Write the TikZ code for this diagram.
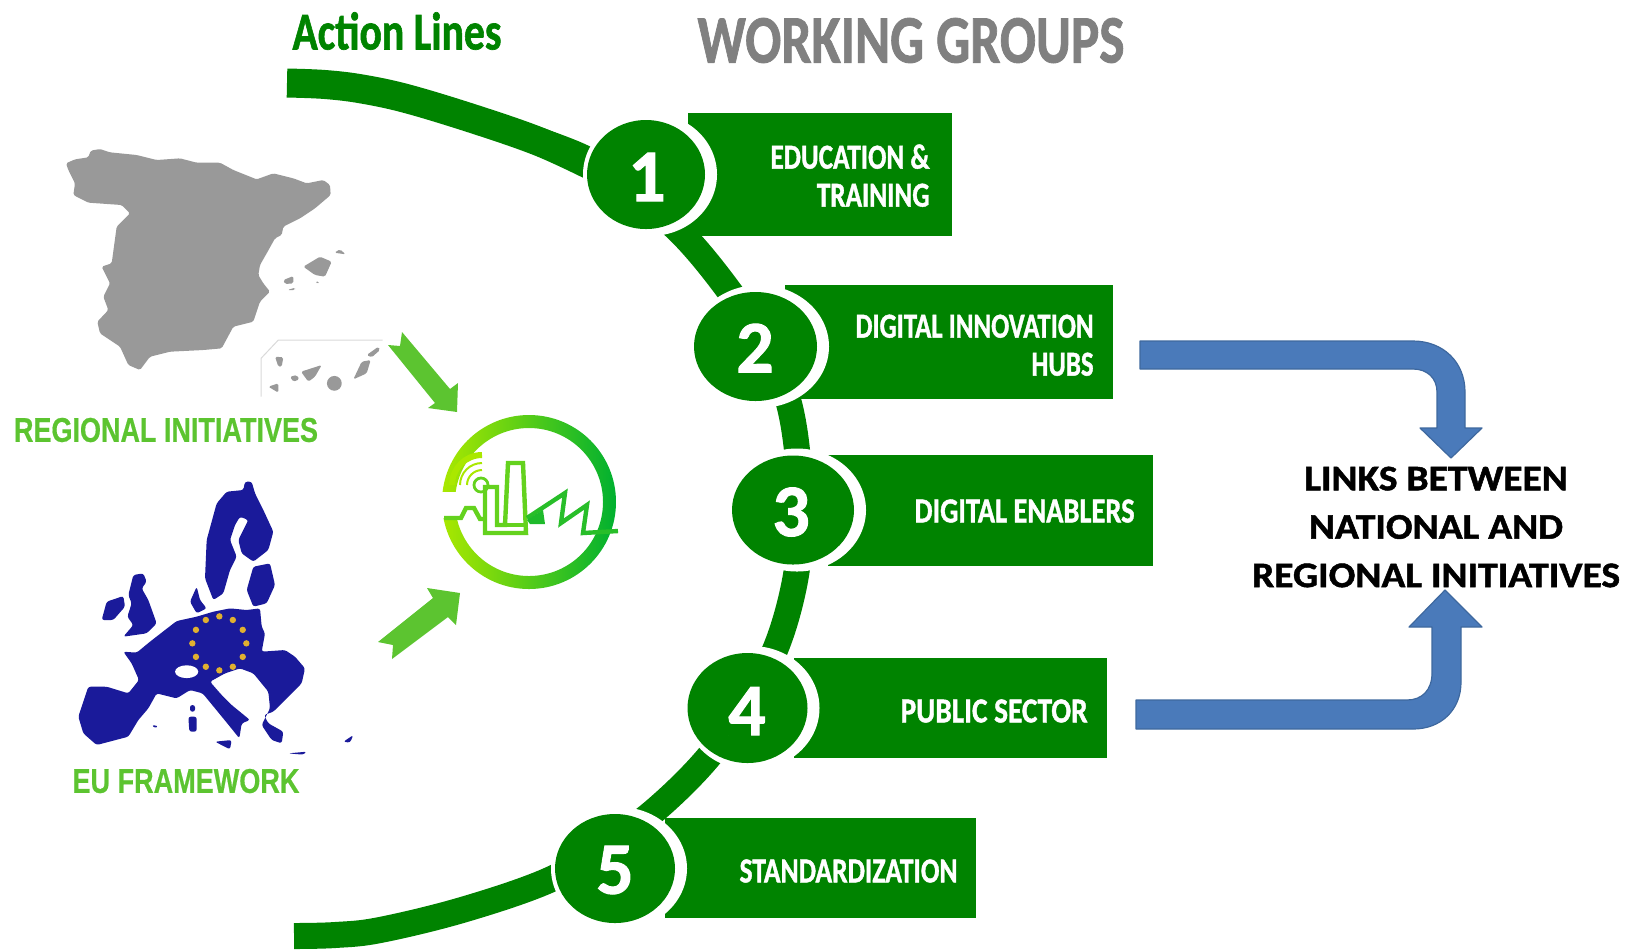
\documentclass[tikz,border=0pt]{standalone}
\usepackage{fontspec}
\usepackage{graphicx}
\usepackage{array}
\setmainfont{Carlito}[BoldFeatures={FakeBold=1.3}]
\newfontfamily\arialf{Liberation Sans}[BoldFeatures={FakeBold=0.6}]
\usetikzlibrary{shapes.geometric}
\newlength\pxu \setlength\pxu{0.5pt}
\newcommand\fitw[2]{\resizebox{#1\pxu}{\height}{#2}}
\definecolor{awgreen}{RGB}{0,131,0}
\definecolor{awlime}{RGB}{92,196,48}
\definecolor{awgrey}{RGB}{128,128,128}
\definecolor{awmap}{RGB}{153,153,153}
\definecolor{aweu}{RGB}{26,26,154}
\definecolor{awstar}{RGB}{224,176,48}
\definecolor{awblue}{RGB}{74,122,186}
\definecolor{awblueline}{RGB}{62,104,158}
\definecolor{logoa}{RGB}{170,232,0}
\definecolor{logob}{RGB}{90,208,16}
\definecolor{logoc}{RGB}{0,176,48}
\definecolor{logol}{RGB}{100,210,30}
\tikzset{
  x=0.5pt,y=-0.5pt,
  wgbox/.style={rectangle,fill=awgreen,inner sep=0pt,outer sep=0pt},
  wgring/.style={ellipse,fill=white,inner sep=0pt,outer sep=0pt},
  wgdisc/.style={ellipse,fill=awgreen,inner sep=0pt,outer sep=0pt},
  wgdigit/.style={text=white,font=\fontsize{37}{37}\selectfont\bfseries,inner sep=0pt},
  wglabel/.style={text=white,anchor=east,inner sep=0pt,font=\fontsize{17.5}{19}\selectfont\bfseries},
  titletext/.style={inner sep=0pt},
  bandline/.style={draw=awgreen,line width=13pt},
  limearrow/.style={fill=awlime},
  bluearrow/.style={fill=awblue,draw=awblueline,line width=0.6pt,line join=round},
  logoline/.style={draw=logol,line width=2.2pt,line join=miter},
  spainmap/.style={fill=awmap,rounded corners=0.8pt},
  eumap/.style={fill=aweu,rounded corners=1.2pt},
}
\begin{document}
\begin{tikzpicture}
\useasboundingbox (0,0) rectangle (1626,950);
% titles
\node[titletext,text=awgreen,font=\fontsize{26.5}{27}\selectfont\bfseries] (actionlines) at (397,31) {\fitw{209}{Action Lines}};
\node[titletext,text=awgrey,font=\fontsize{34}{35}\selectfont\bfseries] (workinggroups) at (911,40.5) {\fitw{427}{WORKING GROUPS}};
% main band
\draw[bandline] plot[smooth,tension=0.6] coordinates {(477,120) (582,157) (640,198) (684,236) (727,288) (765,345) (788,400) (798,460) (799,515) (796,575) (777,645) (745,705) (706,760) (653,812) (600,850) (547,881) (462,910) (380,930) (335,935) (294,936)};
\draw[draw=awgreen,line width=14.5pt] plot[smooth,tension=0.6] coordinates {(287,83) (325,84.5) (362,89) (408,99) (477,120) (540,142) (590,165)};
% boxes
\node[wgbox,minimum width=264\pxu,minimum height=123\pxu] (box1) at (819.5,174.5) {};
\node[wgbox,minimum width=328\pxu,minimum height=114\pxu] (box2) at (949,342) {};
\node[wgbox,minimum width=325\pxu,minimum height=111\pxu] (box3) at (990.5,510) {};
\node[wgbox,minimum width=313\pxu,minimum height=100\pxu] (box4) at (950.5,708) {};
\node[wgbox,minimum width=311\pxu,minimum height=100\pxu] (box5) at (820.5,868) {};
% discs
\foreach \n/\cx/\cy/\rx/\ry/\dx/\dy in {1/646/174.5/59/54.5/647/177, 2/755.5/346.5/61.5/54.5/755/348, 3/793/510/61/54.5/791/512, 4/747.5/708/60/55/747/711, 5/615/868.5/60/54.5/615/870}{
  \node[wgring,minimum width={(2*\rx+16)*0.5pt},minimum height={(2*\ry+14)*0.5pt}] (ring\n) at ({\cx+4},\cy) {};
  \node[wgdisc,minimum width={2*\rx*0.5pt},minimum height={2*\ry*0.5pt}] (disc\n) at (\cx,\cy) {};
  \node[wgdigit] (digit\n) at (\dx,\dy) {\n};
}
% group labels
\node[wglabel] (lab1) at (930,180) {\fitw{159}{\begin{tabular}{@{}r@{}}EDUCATION \&\\TRAINING\end{tabular}}};
\node[wglabel] (lab2) at (1094,349) {\fitw{238}{\begin{tabular}{@{}r@{}}DIGITAL INNOVATION\\HUBS\end{tabular}}};
\node[wglabel] (lab3) at (1135,511) {\fitw{220}{DIGITAL ENABLERS}};
\node[wglabel] (lab4) at (1088,711) {\fitw{187}{PUBLIC SECTOR}};
\node[wglabel] (lab5) at (958,871) {\fitw{218}{STANDARDIZATION}};
% blue arrows
\path[bluearrow] (1140,341) -- (1413,341) .. controls (1443,341) and (1465,362) .. (1465,392) -- (1465,428) -- (1482,428) -- (1451,458) -- (1420,428) -- (1437,428) -- (1437,392) .. controls (1437,378) and (1427,369) .. (1413,369) -- (1140,369) -- cycle;
\path[bluearrow] (1136,700) -- (1407,700) .. controls (1422,700) and (1432,690) .. (1432,673) -- (1432,627) -- (1409,627) -- (1445,590) -- (1482,627) -- (1461,627) -- (1461,682) .. controls (1461,710) and (1441,729) .. (1413,729) -- (1136,729) -- cycle;
\node[inner sep=0pt,font=\fontsize{18}{24.2}\selectfont\bfseries] (links) at (1436,529) {\fitw{368}{\begin{tabular}{@{}c@{}}LINKS BETWEEN\\NATIONAL AND\\REGIONAL INITIATIVES\end{tabular}}};
% lime arrows
\fill[limearrow] (388,345) -- (400,346) -- (402,332) -- (450,389) -- (458,383) -- (457,412) -- (428,408) -- (435,403) -- cycle;
\fill[limearrow] (378,642) -- (393,645) -- (392,659) -- (448,617) -- (456,625) -- (460,593) -- (427,588) -- (433,598) -- cycle;
% logo
\shade[left color=logoa,middle color=logob,right color=logoc,even odd rule] (529,502) circle (43.5pt) (529,502) circle (37pt);
\fill[white] (440,492) rectangle (478,518);
\draw[logoa,line width=3pt] (482,455) arc[start angle=90,end angle=180,radius=15pt];
\draw[logoa,line width=1pt] (482,463) arc[start angle=90,end angle=180,radius=11pt];
\draw[logoa,line width=1pt] (482,470) arc[start angle=90,end angle=180,radius=7.5pt];
\fill[white] (440,492) rectangle (478,518);
\draw[logoline] (444,518) -- (461,518) -- (466,508) -- (474,508) -- (480,519) -- (485,519);
\draw[logoline] (485,533) -- (485,487) -- (497,487) -- (497,525) -- (505,525) -- (508,463) -- (523,463) -- (526,533) -- cycle;
\draw[logoline] (497,525) -- (526,525);
\draw[draw=logoc!60!logol,line width=2.2pt,line join=miter] (527,518) -- (565,493) -- (561,523) -- (587,505) -- (583,533) -- (618,531);
\fill[logoc!70!logol] (527,520) -- (543,510) -- (545,524) -- (530,524) -- cycle;
\draw[logol,line width=1.4pt] (481,485) circle (3.5pt);
% Spain
\begin{scope}[x=0.166667pt,y=-0.166667pt,yshift=-60pt]
\path[spainmap] (198,130) -- (225,118) -- (265,112) -- (272,92) -- (300,87) -- (330,97) -- (410,105) -- (470,120) -- (540,115) -- (590,128) -- (660,128) -- (700,150) -- (770,178) -- (820,160) -- (880,175) -- (920,190) -- (970,180) -- (990,195) -- (992,225) -- (945,265) -- (900,295) -- (850,320) -- (845,345) -- (825,355) -- (800,400) -- (780,435) -- (775,465) -- (790,490) -- (810,515) -- (780,545) -- (760,605) -- (700,620) -- (665,685) -- (610,690) -- (510,695) -- (450,710) -- (420,750) -- (385,735) -- (360,680) -- (300,640) -- (292,605) -- (325,570) -- (310,530) -- (330,490) -- (305,440) -- (335,430) -- (350,320) -- (390,280) -- (365,255) -- (265,248) -- (220,225) -- (225,190) -- (205,150) -- cycle;
\path[spainmap] (910,440) -- (960,410) -- (995,425) -- (975,470) -- (945,465) -- cycle;
\path[spainmap] (1003,398) -- (1020,388) -- (1037,403) -- cycle;
\path[spainmap] (850,480) -- (880,468) -- (880,490) -- (855,492) -- cycle;
\path[spainmap] (862,510) -- (885,503) -- (885,510) -- cycle;
\path[spainmap] (945,485) -- (958,485) -- (955,492) -- cycle;
\draw[black!15,line width=0.5pt] (783,830) -- (783,715) -- (835,660) -- (1148,660);
\path[spainmap] (825,710) -- (850,712) -- (845,740) -- (835,740) -- cycle;
\path[spainmap] (805,800) -- (835,790) -- (835,818) -- cycle;
\path[spainmap] (870,770) -- (890,765) -- (898,778) -- (880,785) -- cycle;
\path[spainmap] (903,755) -- (965,735) -- (945,770) -- (925,785) -- cycle;
\fill[awmap] (1003,790) circle (3.7pt);
\path[spainmap] (1060,778) -- (1085,725) -- (1112,720) -- (1100,760) -- cycle;
\path[spainmap] (1100,705) -- (1135,680) -- (1140,690) -- (1115,712) -- cycle;
\end{scope}
\node[inner sep=0pt,text=awlime,font=\arialf\fontsize{17.2}{18}\selectfont\bfseries] (regional) at (166,430) {\fitw{304}{REGIONAL INITIATIVES}};
% EU
\begin{scope}[x=0.166667pt,y=-0.166667pt,xshift=20pt,yshift=-230pt]
\path[eumap] (115,770) -- (145,680) -- (200,680) -- (265,700) -- (297,660) -- (275,610) -- (250,575) -- (290,578) -- (330,545) -- (375,510) -- (410,483) -- (470,470) -- (520,455) -- (570,445) -- (620,450) -- (660,445) -- (665,500) -- (675,520) -- (665,575) -- (735,570) -- (765,590) -- (795,625) -- (785,670) -- (750,705) -- (715,740) -- (700,755) -- (672,765) -- (685,790) -- (730,815) -- (725,850) -- (695,840) -- (665,795) -- (690,745) -- (685,695) -- (640,640) -- (600,625) -- (555,640) -- (510,665) -- (545,705) -- (575,735) -- (630,780) -- (605,790) -- (598,835) -- (570,800) -- (525,745) -- (488,700) -- (450,690) -- (410,715) -- (350,700) -- (325,745) -- (295,780) -- (265,830) -- (170,855) -- (130,820) -- cycle;
\fill[white] (440,635) ellipse [x radius=5.8pt,y radius=3.2pt];
\path[eumap] (525,845) -- (575,840) -- (570,868) -- cycle;
\path[eumap] (450,735) -- (465,735) -- (465,755) -- (450,755) -- cycle;
\path[eumap] (445,770) -- (470,770) -- (470,815) -- (448,815) -- cycle;
\path[eumap] (335,795) -- (355,798) -- (345,805) -- cycle;
\path[eumap] (745,880) -- (800,875) -- (790,884) -- cycle;
\path[eumap] (910,845) -- (940,825) -- (930,848) -- cycle;
\path[eumap] (185,480) -- (200,425) -- (250,408) -- (255,440) -- (220,480) -- cycle;
\path[eumap] (280,345) -- (310,340) -- (320,365) -- (305,385) -- (325,420) -- (350,490) -- (320,520) -- (250,530) -- (280,495) -- (262,470) -- (275,430) -- (265,405) -- cycle;
\path[eumap] (450,425) -- (470,380) -- (480,420) -- (500,445) -- (470,460) -- cycle;
\path[eumap] (615,65) -- (635,65) -- (645,100) -- (670,150) -- (700,215) -- (685,270) -- (640,305) -- (605,280) -- (595,240) -- (625,180) -- (600,170) -- (585,195) -- (570,240) -- (590,290) -- (570,330) -- (550,400) -- (520,420) -- (495,355) -- (500,240) -- (530,130) -- (560,95) -- (610,90) -- cycle;
\path[eumap] (640,320) -- (690,310) -- (705,375) -- (680,430) -- (640,440) -- (620,390) -- cycle;
\foreach \a in {0,30,...,330}{\fill[awstar] ({538+81*cos(\a)},{550+81*sin(\a)}) circle (1.6pt);}
\end{scope}
\node[inner sep=0pt,text=awlime,font=\arialf\fontsize{17.2}{18}\selectfont\bfseries] (euframe) at (186,781) {\fitw{227}{EU FRAMEWORK}};
\end{tikzpicture}
\end{document}
